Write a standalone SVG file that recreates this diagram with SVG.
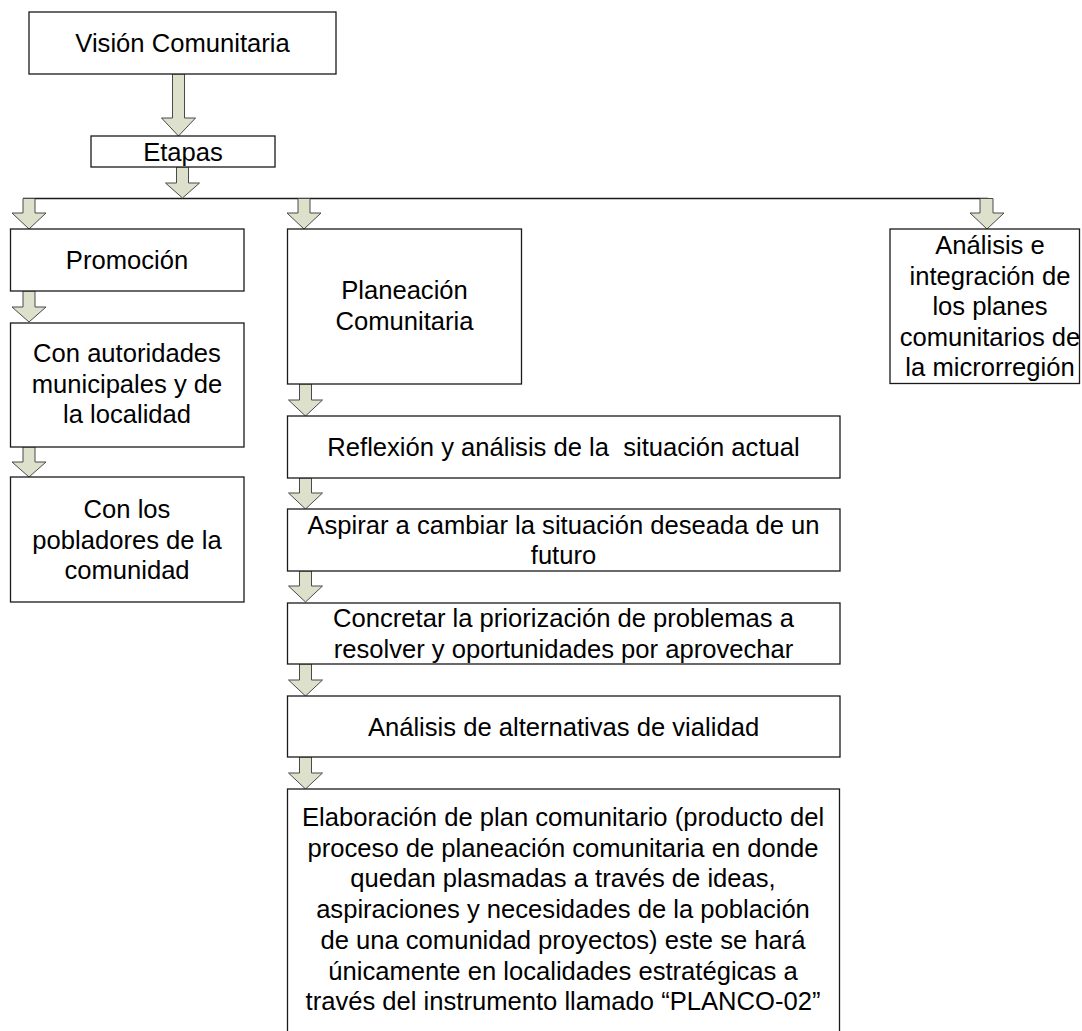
<svg xmlns="http://www.w3.org/2000/svg" width="1082" height="1031" viewBox="0 0 1082 1031">
<style>
.box{fill:#ffffff;stroke:#1a1a1a;stroke-width:1.3}
.t{font-family:"Liberation Sans",Arial,sans-serif;font-size:25.6px;fill:#000;text-anchor:middle}
.arr{fill:#dde0cb;stroke:#4a4a4a;stroke-width:1}
.ln{fill:none;stroke:#1a1a1a;stroke-width:1.3}
</style>
<rect width="1082" height="1031" fill="#ffffff"/>
<g id="connectors">
<path class="ln" d="M23,198.5 H988"/>
<path class="arr" d="M172.5,74 H184.5 V118 H195.5 L178.5,136 L161.5,118 H172.5 Z"/>
<path class="arr" d="M176.5,167 H188.5 V183 H199.5 L182.5,198 L165.5,183 H176.5 Z"/>
<path class="arr" d="M23,198.5 H35 V213 H46 L29,229 L12,213 H23 Z"/>
<path class="arr" d="M298,198.5 H310 V213 H321 L304,229 L287,213 H298 Z"/>
<path class="arr" d="M980,198.5 H993 V213 H1004 L987,229 L970,213 H980 Z"/>
<path class="arr" d="M23,291 H35 V307 H46 L29,322 L12,307 H23 Z"/>
<path class="arr" d="M23,447 H35 V462 H46 L29,477 L12,462 H23 Z"/>
<path class="arr" d="M299.5,384 H311.5 V400 H322.5 L305.5,416 L288.5,400 H299.5 Z"/>
<path class="arr" d="M299.5,478 H311.5 V493 H322.5 L305.5,509 L288.5,493 H299.5 Z"/>
<path class="arr" d="M299.5,571 H311.5 V586 H322.5 L305.5,602 L288.5,586 H299.5 Z"/>
<path class="arr" d="M299.5,664 H311.5 V680 H322.5 L305.5,696 L288.5,680 H299.5 Z"/>
<path class="arr" d="M299.5,757 H311.5 V773 H322.5 L305.5,789 L288.5,773 H299.5 Z"/>
</g>
<g id="vision">
<rect class="box" x="29" y="12" width="307" height="62"/>
<text class="t" x="182.5" y="52">Visión Comunitaria</text>
</g>
<g id="etapas">
<rect class="box" x="91" y="136" width="184" height="31"/>
<text class="t" x="183" y="160.5">Etapas</text>
</g>
<g id="promocion">
<rect class="box" x="10.5" y="229" width="233.5" height="62"/>
<text class="t" x="127" y="269">Promoción</text>
</g>
<g id="autoridades">
<rect class="box" x="10.5" y="323" width="233.5" height="124"/>
<text class="t" x="127" y="362">Con autoridades</text>
<text class="t" x="127" y="393">municipales y de</text>
<text class="t" x="127" y="423">la localidad</text>
</g>
<g id="pobladores">
<rect class="box" x="10.5" y="477" width="233.5" height="125"/>
<text class="t" x="127" y="518">Con los</text>
<text class="t" x="127" y="549">pobladores de la</text>
<text class="t" x="127" y="579">comunidad</text>
</g>
<g id="planeacion">
<rect class="box" x="287.5" y="229" width="234" height="155"/>
<text class="t" x="404.5" y="299">Planeación</text>
<text class="t" x="404.5" y="330">Comunitaria</text>
</g>
<g id="analisis-integracion">
<rect class="box" x="890" y="229" width="189.5" height="154.5"/>
<text class="t" x="990" y="254">Análisis e</text>
<text class="t" x="990" y="284.5">integración de</text>
<text class="t" x="990" y="315">los planes</text>
<text class="t" x="990" y="345.5">comunitarios de</text>
<text class="t" x="990" y="376">la microrregión</text>
</g>
<g id="reflexion">
<rect class="box" x="287.5" y="416" width="552.5" height="62"/>
<text class="t" x="563.5" y="456" xml:space="preserve">Reflexión y análisis de la  situación actual</text>
</g>
<g id="aspirar">
<rect class="box" x="287.5" y="509" width="552.5" height="62"/>
<text class="t" x="563.5" y="533.5">Aspirar a cambiar la situación deseada de un</text>
<text class="t" x="563.5" y="564">futuro</text>
</g>
<g id="concretar">
<rect class="box" x="287.5" y="603" width="552.5" height="61"/>
<text class="t" x="563.5" y="627">Concretar la priorización de problemas a</text>
<text class="t" x="563.5" y="658">resolver y oportunidades por aprovechar</text>
</g>
<g id="alternativas">
<rect class="box" x="287.5" y="696" width="552.5" height="61"/>
<text class="t" x="563.5" y="735.5">Análisis de alternativas de vialidad</text>
</g>
<g id="elaboracion">
<rect class="box" x="287.5" y="789" width="552" height="270"/>
<text class="t" x="563" y="826">Elaboración de plan comunitario (producto del</text>
<text class="t" x="563" y="857">proceso de planeación comunitaria en donde</text>
<text class="t" x="563" y="887">quedan plasmadas a través de ideas,</text>
<text class="t" x="563" y="918">aspiraciones y necesidades de la población</text>
<text class="t" x="563" y="949">de una comunidad proyectos) este se hará</text>
<text class="t" x="563" y="980">únicamente en localidades estratégicas a</text>
<text class="t" x="563" y="1010">través del instrumento llamado “PLANCO-02”</text>
</g>
</svg>
